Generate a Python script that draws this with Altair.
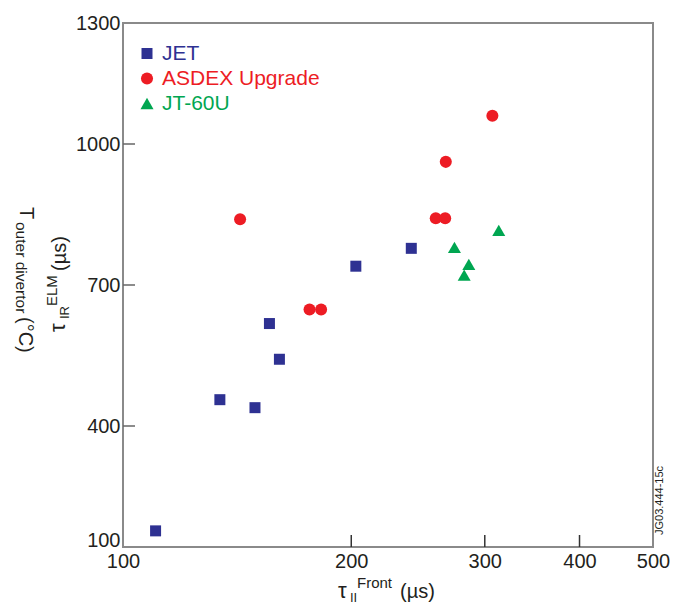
import altair as alt
import pandas as pd

# ---- data ----
names = ["JET", "ASDEX Upgrade", "JT-60U"]
colors = ["#2E3192", "#ED1C24", "#00A651"]
shapes = ["square", "circle", "triangle-up"]

jet_x = [110.4, 134.2, 149.3, 156.0, 160.8, 202.8, 240.0]
jet_y = [140, 456, 439, 618, 542, 740, 778]
asdex_x = [142.7, 176.2, 182.5, 258.5, 266.0, 266.5, 307.0]
asdex_y = [840, 648, 648, 842, 842, 962, 1070]
jt_x = [313.0, 273.6, 285.8, 281.8]
jt_y = [816, 780, 744, 721]

x_ticks = [100, 200, 300, 400, 500]
y_ticks = [100, 400, 700, 1000, 1300]
x_inner_ticks = [200, 300, 400]
y_inner_ticks = [400, 700, 1000]

rows = []
for n, xs, ys in [(names[0], jet_x, jet_y), (names[1], asdex_x, asdex_y), (names[2], jt_x, jt_y)]:
    for a, b in zip(xs, ys):
        rows.append({"series": n, "tau_front": a, "tau_ir": b})
df = pd.DataFrame(rows)
legend_df = pd.DataFrame({"series": names})

FONT = "Liberation Sans"
INK = "#231f20"
W, H = 530, 524

xscale = alt.Scale(type="log", domain=[100, 500], nice=False)
yscale = alt.Scale(domain=y_ticks, range=[524, 403, 262, 121, 0], nice=False, zero=False)
cscale = alt.Scale(domain=names, range=colors)
sscale = alt.Scale(domain=names, range=shapes)

xaxis = alt.Axis(values=x_ticks, format="d", title=None, grid=False, domain=False,
                 ticks=False, labelFont=FONT, labelFontSize=20, labelColor=INK,
                 labelPadding=4, labelFlush=False, labelOverlap=False)

yaxis = alt.Axis(values=y_ticks, format="d", title=None, grid=False, domain=False,
                 ticks=False, labelFont=FONT, labelFontSize=20, labelColor=INK,
                 labelPadding=3, labelFlush=False, labelOverlap=False,
                 labelOffset={"condition": {"test": "datum.value == 100", "value": -7}, "value": 0})

points = alt.Chart(df).mark_point(filled=True, opacity=1, strokeWidth=0).encode(
    x=alt.X("tau_front:Q", scale=xscale, axis=xaxis),
    y=alt.Y("tau_ir:Q", scale=yscale, axis=yaxis),
    color=alt.Color("series:N", scale=cscale, legend=None),
    shape=alt.Shape("series:N", scale=sscale, legend=None),
    size=alt.Size("series:N", scale=alt.Scale(domain=names, range=[121, 169, 144]), legend=None),
)

xt = alt.Chart(pd.DataFrame({"v": x_inner_ticks})).mark_rule(color="#333333", strokeWidth=1.5).encode(
    x=alt.X("v:Q", scale=xscale, axis=xaxis),
    y=alt.value(H), y2=alt.value(H - 12),
)
yt = alt.Chart(pd.DataFrame({"v": y_inner_ticks})).mark_rule(color="#666666", strokeWidth=1.5).encode(
    y=alt.Y("v:Q", scale=yscale, axis=None),
    x=alt.value(0), x2=alt.value(12),
)

lscale = alt.Scale(type="point", domain=names, range=[30.5, 80.5], padding=0)
leg_marks = alt.Chart(legend_df).mark_point(filled=True, opacity=1, strokeWidth=0).encode(
    x=alt.value(24),
    y=alt.Y("series:N", scale=lscale, axis=None),
    color=alt.Color("series:N", scale=cscale, legend=None),
    shape=alt.Shape("series:N", scale=sscale, legend=None),
    size=alt.Size("series:N", scale=alt.Scale(domain=names, range=[56, 81, 64]), legend=None),
)
leg_text = alt.Chart(legend_df).mark_text(align="left", baseline="middle", font=FONT, fontSize=21).encode(
    x=alt.value(39),
    y=alt.Y("series:N", scale=lscale, axis=None),
    text="series:N",
    color=alt.Color("series:N", scale=cscale, legend=None),
)

one = alt.Data(values=[{"k": 0}])


def label(txt, x, y, size, angle=0, color=INK):
    return alt.Chart(one).mark_text(
        text=txt, align="left", baseline="alphabetic", font=FONT, fontSize=size,
        angle=angle, color=color,
    ).encode(x=alt.value(x), y=alt.value(y))


titles = [
    # x title: tau_II^Front (µs)
    label("τ", 215, 575, 22),
    label("II", 227, 579, 13),
    label("Front", 234, 565, 15),
    label("(µs)", 277, 575, 20),
    # y title line 1 (reads downward)
    label("T", -103, 184, 20, angle=90),
    label("outer divertor", -107, 199, 15.5, angle=90),
    label("(°C)", -104, 294, 20, angle=90),
    # y title line 2 (reads upward)
    label("τ", -58, 309, 22, angle=270),
    label("IR", -54, 296, 13, angle=270),
    label("ELM", -66, 283, 15, angle=270),
    label("(µs)", -57, 248, 20, angle=270),
    # figure id
    label("JG03.444-15c", 540, 512, 11, angle=270),
]

chart = alt.layer(points, xt, yt, leg_marks, leg_text, *titles).resolve_scale(
    y="independent"
).properties(
    width=W, height=H,
    padding={"left": 115, "top": 15, "right": 25, "bottom": 60},
    autosize=alt.AutoSizeParams(type="none"),
).configure_view(
    stroke="#8a8a8a", strokeWidth=2
)

chart.save("out.html", embed_options={"renderer": "svg", "actions": False})
